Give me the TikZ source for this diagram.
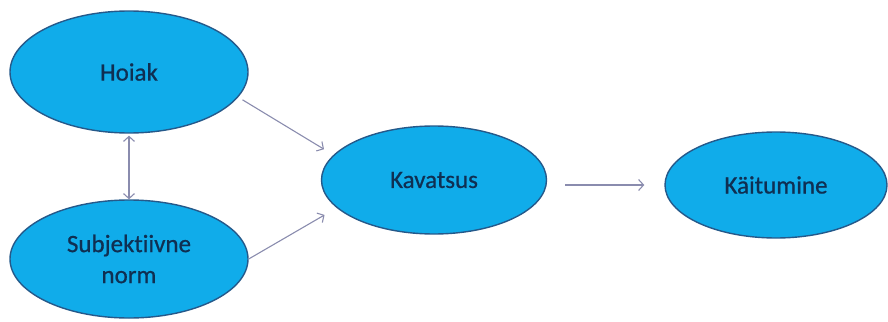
\documentclass[tikz,border=0pt]{standalone}
\usepackage{fontspec}
\setmainfont{Carlito}[Ligatures=NoCommon,FakeBold=0.7]
\usetikzlibrary{arrows.meta,shapes.geometric}
\definecolor{bubblefill}{HTML}{10ACEA}
\definecolor{bubbleedge}{HTML}{25598A}
\definecolor{bubbletext}{HTML}{0F2F52}
\definecolor{linkcol}{HTML}{8A8CAE}
\tikzset{
  bubble/.style={ellipse, draw=bubbleedge, line width=1.4pt, fill=bubblefill,
    inner sep=0pt, text=bubbletext, align=center,
    font=\fontsize{25}{31}\selectfont},
  link/.style={draw=linkcol, line width=1.1pt,
    -{Straight Barb[length=5pt,width=11pt,line width=1.1pt]}},
}
\begin{document}
\begin{tikzpicture}[x=1pt,y=-1pt]
\useasboundingbox (0,0) rectangle (888,321);
\node[bubble, minimum width=238pt, minimum height=122pt] (hoiak) at (129,72) {Hoiak};
\node[bubble, minimum width=238pt, minimum height=118pt] (norm) at (129,259) {Subjektiivne\\norm};
\node[bubble, minimum width=225pt, minimum height=108pt] (kav) at (434,180) {Kavatsus};
\node[bubble, minimum width=222pt, minimum height=106pt] (kait) at (776,185) {Käitumine};
\draw[link, {Straight Barb[length=5pt,width=11pt,line width=1.1pt]}-{Straight Barb[length=5pt,width=11pt,line width=1.1pt]}, shorten <=2pt]
  (hoiak.south) -- (norm.north);
\draw[link, shorten <=5pt, shorten >=11pt] (hoiak.-13) -- (kav.166);
\draw[link, shorten >=14pt] (norm.east) -- (kav.196);
\draw[link, shorten <=18pt, shorten >=20pt] (kav.east |- kait.west) -- (kait.west);
\end{tikzpicture}
\end{document}
